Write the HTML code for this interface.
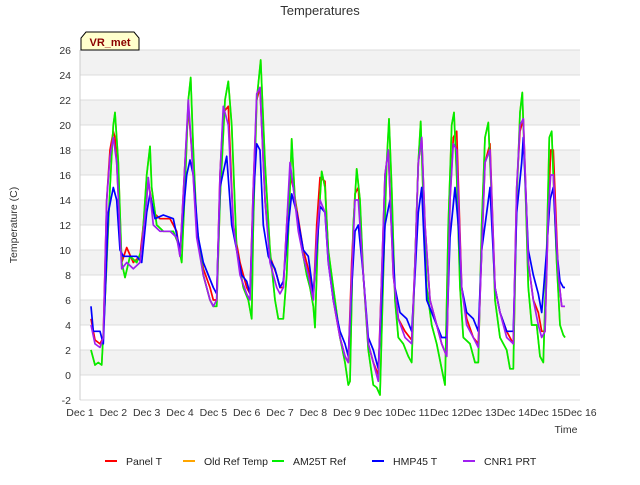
<!DOCTYPE html>
<html><head><meta charset="utf-8"><style>
body{margin:0;background:#fff;}
svg text{font-family:"Liberation Sans",sans-serif;}
</style></head><body>
<svg id="chart" width="640" height="480" viewBox="0 0 640 480">
<rect x="0" y="0" width="640" height="480" fill="#fff"/>
<text x="320" y="15" text-anchor="middle" font-size="13" fill="#333">Temperatures</text>
<g id="grid"></g>
<g id="series"></g>
<g id="axes"></g>
<text transform="translate(17,225) rotate(-90)" text-anchor="middle" font-size="10.5" fill="#333">Temperature (C)</text>
<text x="566" y="433" text-anchor="middle" font-size="10.5" fill="#333">Time</text>
<g>
<path d="M81,50 L81,38 L86,32 L134,32 L139,38 L139,50 Z" fill="#ffffcc" stroke="#000" stroke-width="1"/>
<text x="110" y="46" text-anchor="middle" font-size="11" font-weight="bold" fill="#8b0000">VR_met</text>
</g>
<g id="legend"></g>
</svg>
<script>
const yTicks=[-2,0,2,4,6,8,10,12,14,16,18,20,22,24,26];
const xTickLabels=["Dec 1","Dec 2","Dec 3","Dec 4","Dec 5","Dec 6","Dec 7","Dec 8","Dec 9","Dec 10","Dec 11","Dec 12","Dec 13","Dec 14","Dec 15","Dec 16"];
const seriesNames=["Panel T","Old Ref Temp","AM25T Ref","HMP45 T","CNR1 PRT"];
const seriesColors=["#ff0000","#ffa500","#00ee00","#0000ff","#a020f0"];
const greenData=[[0.33,2],[0.45,0.8],[0.55,1],[0.65,0.8],[0.75,6],[0.9,15],[1.0,20],[1.05,21],[1.15,17],[1.25,9],[1.35,7.8],[1.5,9.5],[1.7,9],[1.85,10],[2.0,16],[2.1,18.3],[2.15,15],[2.3,12],[2.5,11.5],[2.8,11.5],[2.95,10.5],[3.05,9],[3.15,15],[3.25,22],[3.32,23.8],[3.4,18],[3.5,12],[3.7,8],[3.9,6],[4.0,5.5],[4.1,5.5],[4.2,14],[4.35,22],[4.45,23.5],[4.55,20],[4.7,10],[4.9,7],[5.05,6],[5.15,4.5],[5.2,12],[5.3,22],[5.42,25.2],[5.55,17],[5.7,10],[5.85,6],[5.95,4.5],[6.1,4.5],[6.2,8],[6.3,15],[6.35,18.9],[6.45,14],[6.6,11],[6.8,8],[6.9,7],[7.0,5.5],[7.05,3.8],[7.15,12],[7.25,16.3],[7.35,15],[7.45,10],[7.6,7],[7.8,3],[7.95,1],[8.05,-0.8],[8.1,-0.5],[8.2,12],[8.3,16.5],[8.4,14],[8.5,8],[8.65,2],[8.8,-0.8],[8.9,-1],[9.0,-1.6],[9.1,8],[9.2,17],[9.27,20.5],[9.35,15],[9.45,6],[9.55,3],[9.7,2.5],[9.85,1.5],[9.95,1],[10.05,9],[10.15,17],[10.22,20.3],[10.3,14],[10.4,7],[10.55,4],[10.7,2.5],[10.85,0.5],[10.95,-0.8],[11.05,12],[11.15,20],[11.22,21],[11.3,16],[11.4,7],[11.5,3],[11.7,2.5],[11.85,1],[11.95,1],[12.05,12],[12.15,19],[12.25,20.2],[12.35,14],[12.45,6],[12.6,3],[12.8,2],[12.9,0.5],[13.0,0.5],[13.1,14],[13.2,21],[13.27,22.6],[13.35,16],[13.45,7],[13.55,4],[13.7,4],[13.8,1.5],[13.9,1],[14.0,10],[14.08,19],[14.15,19.5],[14.2,16],[14.3,9],[14.4,4],[14.5,3.2],[14.55,3]];
const orangeData=greenData;
const blueData=[[0.33,5.5],[0.4,3.5],[0.6,3.5],[0.7,2.5],[0.85,13],[1.0,15],[1.1,14],[1.2,10],[1.3,9.5],[1.5,9.5],[1.7,9.5],[1.85,9],[2.0,13],[2.1,14.5],[2.25,12.5],[2.5,12.8],[2.8,12.5],[3.0,10],[3.1,13],[3.2,16],[3.3,17.2],[3.4,16],[3.55,11],[3.7,9],[3.85,8],[4.0,7],[4.1,6.5],[4.2,15],[4.4,17.5],[4.55,12],[4.7,10],[4.85,8],[5.0,7.5],[5.1,6.5],[5.2,14],[5.3,18.5],[5.4,18],[5.5,12],[5.65,9.5],[5.85,8.5],[6.0,7],[6.1,7.5],[6.25,12],[6.35,14.5],[6.5,13],[6.7,10],[6.85,9.5],[7.0,6.5],[7.1,10],[7.2,13.5],[7.35,13],[7.45,9],[7.6,6],[7.8,3.5],[7.95,2.5],[8.05,1.5],[8.15,7],[8.25,11.5],[8.35,12],[8.5,8],[8.65,3],[8.8,2],[8.95,0.5],[9.05,6],[9.15,12],[9.3,14],[9.45,7],[9.6,5],[9.8,4.5],[9.95,3.5],[10.05,8],[10.15,13],[10.25,15],[10.4,6],[10.55,5],[10.7,4],[10.85,3],[11.0,3],[11.1,11],[11.25,15],[11.35,12],[11.45,7],[11.6,5],[11.8,4.5],[11.95,3.5],[12.05,10],[12.2,13],[12.3,15],[12.45,7],[12.6,5],[12.8,3.5],[13.0,3.5],[13.1,13],[13.25,17],[13.3,19],[13.45,10],[13.6,8],[13.75,6.5],[13.85,5],[14.0,10],[14.1,14],[14.2,15],[14.3,10],[14.4,7.5],[14.5,7],[14.55,7]];
const purpleData=[[0.33,4],[0.45,2.5],[0.6,2.2],[0.7,3],[0.8,14],[0.9,17.5],[1.0,19],[1.1,17],[1.25,8.5],[1.4,9],[1.6,8.5],[1.8,9],[2.0,14],[2.05,15.8],[2.2,12],[2.4,11.5],[2.7,11.5],[2.9,11],[3.0,9.5],[3.15,17],[3.25,22],[3.35,18],[3.5,11],[3.7,8],[3.9,6],[4.0,5.5],[4.1,6],[4.2,16],[4.3,21.5],[4.45,20],[4.6,12],[4.8,8],[5.0,6.5],[5.1,6],[5.2,15],[5.3,22.5],[5.4,23],[5.55,14],[5.7,9],[5.9,7],[6.0,6.5],[6.1,7],[6.2,12],[6.3,17],[6.4,15],[6.55,11.5],[6.7,9.5],[6.85,8],[7.0,6],[7.1,11],[7.2,14],[7.35,13],[7.45,9],[7.6,6],[7.8,3],[7.95,1.5],[8.05,1],[8.15,8],[8.25,14],[8.35,14],[8.5,8],[8.65,2.5],[8.8,1],[8.95,-0.5],[9.05,8],[9.15,16],[9.25,18],[9.4,8],[9.55,4.5],[9.75,3],[9.95,2.5],[10.05,9],[10.15,17],[10.25,19],[10.35,12],[10.5,6],[10.7,4],[10.85,2.5],[11.0,1.5],[11.1,14],[11.2,18.5],[11.3,18],[11.45,7],[11.6,4],[11.8,3],[11.95,2.2],[12.05,10],[12.15,17],[12.3,18],[12.45,7],[12.6,5],[12.8,3],[13.0,2.5],[13.1,15],[13.2,20],[13.3,20.5],[13.45,9],[13.6,6],[13.75,4],[13.85,3],[13.95,3.5],[14.05,13],[14.12,16],[14.2,16],[14.35,8],[14.45,5.5],[14.55,5.5]];
const redData=[[0.33,4.5],[0.45,2.8],[0.6,2.5],[0.7,3],[0.8,14],[0.9,18],[1.0,19.5],[1.05,19],[1.1,17],[1.25,9],[1.4,10.2],[1.6,9],[1.8,9.5],[2.0,14.5],[2.05,15.5],[2.2,13],[2.4,12.5],[2.7,12.5],[2.9,11.5],[3.0,9.5],[3.15,17],[3.25,21.5],[3.35,18],[3.5,11.5],[3.7,8.5],[3.9,7],[4.0,6],[4.1,6],[4.2,16],[4.3,21],[4.45,21.5],[4.6,12],[4.8,9],[5.0,7],[5.1,6.5],[5.2,15],[5.3,22],[5.4,23],[5.55,14],[5.7,9.5],[5.9,8],[6.0,7],[6.1,7],[6.2,12],[6.3,16],[6.4,15],[6.55,12.5],[6.7,10],[6.85,8.5],[7.0,6],[7.1,12],[7.2,15.8],[7.35,15.5],[7.45,9.5],[7.6,6],[7.8,3],[7.95,1.5],[8.05,1],[8.15,9],[8.25,14.5],[8.35,15],[8.5,8],[8.65,2.5],[8.8,1],[8.95,0],[9.05,8],[9.15,16],[9.25,18],[9.4,8],[9.55,4.5],[9.75,3.5],[9.95,2.8],[10.05,9],[10.15,17],[10.25,19],[10.35,12],[10.5,6],[10.7,4],[10.85,2.5],[11.0,1.5],[11.1,14],[11.2,19],[11.3,19.5],[11.45,7],[11.6,4.5],[11.8,3],[11.95,2.5],[12.05,10],[12.15,17],[12.3,18.5],[12.45,7],[12.6,5],[12.8,3.5],[13.0,2.5],[13.1,15],[13.2,19.5],[13.3,20.5],[13.45,9],[13.6,6],[13.75,5],[13.85,3.5],[13.95,3.5],[14.05,13],[14.12,18],[14.2,18],[14.35,8],[14.45,5.5],[14.55,5.5]];
const allData=[redData,orangeData,greenData,blueData,purpleData];

const NS="http://www.w3.org/2000/svg";
const X0=80,X1=580,Y0=400,Y1=50,YMIN=-2,YMAX=26,DAYS=15;
function xScale(d){return X0+(d/DAYS)*(X1-X0);}
function yScale(v){return Y0-(v-YMIN)/(YMAX-YMIN)*(Y0-Y1);}
function mk(tag,attrs,parent){const e=document.createElementNS(NS,tag);for(const k in attrs)e.setAttribute(k,attrs[k]);parent.appendChild(e);return e;}
const grid=document.getElementById('grid'),axes=document.getElementById('axes'),ser=document.getElementById('series'),leg=document.getElementById('legend');
const bg=mk('rect',{x:X0,y:Y1,width:X1-X0,height:Y0-Y1,fill:'#fff'},grid);


for(let i=0;i<yTicks.length-1;i++){
  if(yTicks[i]>=0 && (yTicks[i]/2)%2===0){
    const b=mk('rect',{x:X0,y:yScale(yTicks[i+1]),width:X1-X0,height:yScale(yTicks[i])-yScale(yTicks[i+1]),fill:'#f2f2f2'},grid);
    
    
  }
}
yTicks.forEach(v=>{
  const l=mk('line',{x1:X0,x2:X1,y1:yScale(v),y2:yScale(v),stroke:'#dcdcdc','stroke-width':1},grid);
  
  
  const t=mk('text',{x:X0-9,y:yScale(v)+4,'text-anchor':'end','font-size':10.5,fill:'#333'},axes);
  t.textContent=v;
  
  
});
xTickLabels.forEach((s,i)=>{
  const t=mk('text',{x:xScale(i),y:416,'text-anchor':'middle','font-size':10.5,fill:'#333'},axes);
  t.textContent=s;
  
  
});
const ax=mk('line',{x1:X0,x2:X0,y1:Y1,y2:Y0,stroke:'#ccc'},axes);


allData.forEach((data,si)=>{
  const p=mk('polyline',{points:data.map(d=>xScale(d[0]).toFixed(1)+','+yScale(d[1]).toFixed(1)).join(' '),fill:'none',stroke:seriesColors[si],'stroke-width':1.7,'stroke-linejoin':'round'},ser);
  
  
});
const legX=[105,183,272,372,463];
seriesNames.forEach((n,i)=>{
  const g=mk('g',{},leg);
  
  
  mk('line',{x1:legX[i],x2:legX[i]+12,y1:461,y2:461,stroke:seriesColors[i],'stroke-width':2},g);
  const t=mk('text',{x:legX[i]+21,y:465,'font-size':10.5,fill:'#222'},g);
  t.textContent=n;
});
</script>
</body></html>
